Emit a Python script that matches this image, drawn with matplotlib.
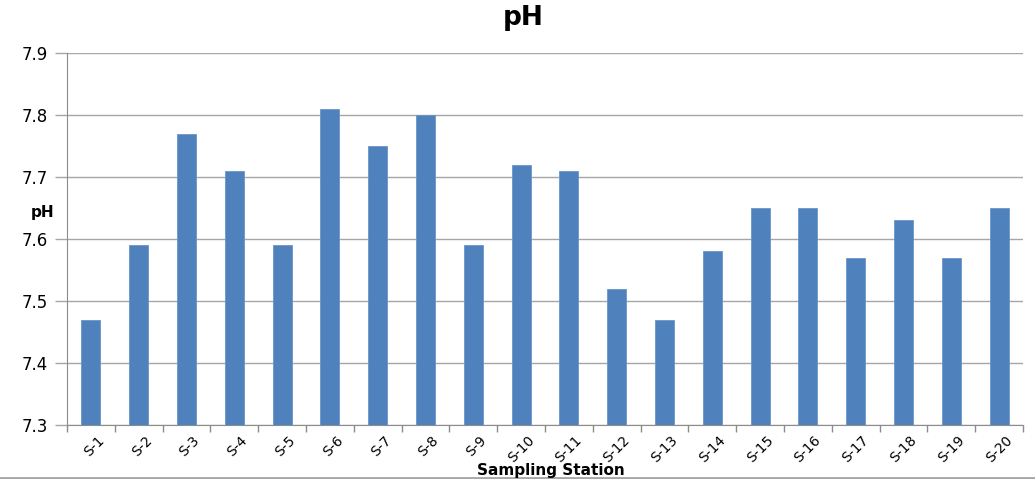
import matplotlib
matplotlib.use("Agg")
import matplotlib.pyplot as plt
from matplotlib.lines import Line2D
import matplotlib.transforms as mtransforms

stations = [f"S-{i}" for i in range(1, 21)]
ph_values = [7.47, 7.59, 7.77, 7.71, 7.59, 7.81, 7.75, 7.80, 7.59, 7.72,
             7.71, 7.52, 7.47, 7.58, 7.65, 7.65, 7.57, 7.63, 7.57, 7.65]
y_ticks = [7.3, 7.4, 7.5, 7.6, 7.7, 7.8, 7.9]

plt.rcParams['font.family'] = ['DejaVu Sans']

fig = plt.figure(figsize=(10.35, 4.79), dpi=100)
ax = fig.add_axes([67/1035, 1-425/479, (1023-67)/1035, (425-53)/479])

x = list(range(len(stations)))
ax.bar(x, [v - 7.3 for v in ph_values], bottom=7.3, width=0.4,
       color='#4F81BD', edgecolor='#6A95C8', linewidth=0.6, zorder=3)

ax.set_ylim(7.3, 7.9)
ax.set_xlim(-0.5, len(stations) - 0.5)
ax.set_yticks(y_ticks)
ax.set_yticklabels([f"{t:.1f}" for t in y_ticks], fontsize=12)
ax.yaxis.grid(True, color='#A6A6A6', linewidth=1.0, zorder=0)
ax.tick_params(axis='y', length=9, color='#A6A6A6', width=1.0, pad=5)

# x ticks at category boundaries, labels at centers
ax.set_xticks([i - 0.5 for i in range(len(stations) + 1)])
ax.set_xticklabels([])
ax.tick_params(axis='x', which='major', length=5, color='#8C8C8C', width=1.0)
ax.set_xticks(x, minor=True)
ax.set_xticklabels(stations, minor=True, rotation=45, ha='right',
                   rotation_mode='anchor', fontsize=10)
ax.tick_params(axis='x', which='minor', length=0, pad=6)
offset = mtransforms.ScaledTranslation(6/100, 0, fig.dpi_scale_trans)
for lbl in ax.get_xticklabels(minor=True):
    lbl.set_transform(lbl.get_transform() + offset)

for s in ['top', 'right']:
    ax.spines[s].set_visible(False)
ax.spines['left'].set_color('#8C8C8C')
ax.spines['bottom'].set_color('#8C8C8C')

fig.text(523/1035, 1-18/479, 'pH', ha='center', va='center',
         fontsize=19, fontweight='bold')
fig.text(43/1035, 1-213/479, 'pH', ha='center', va='center',
         fontsize=11, fontweight='bold')
fig.text(551/1035, 1-470.5/479, 'Sampling Station', ha='center', va='center',
         fontsize=11, fontweight='bold')

# bottom border of the chart frame
fig.add_artist(Line2D([0, 1], [1-478/479, 1-478/479], transform=fig.transFigure,
                      color='#A6A6A6', linewidth=2.0))

fig.savefig('out.png', dpi=100)
